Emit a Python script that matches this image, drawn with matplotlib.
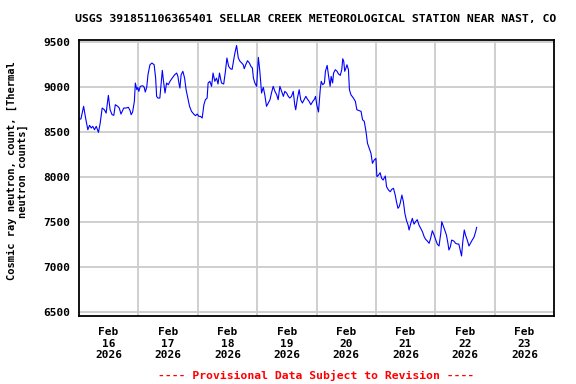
import numpy as np
import matplotlib
matplotlib.use('Agg')
import matplotlib.pyplot as plt

# hours since Feb 16 2026 00:00, neutron counts
hours = [0.0, 0.8, 1.9, 2.7, 3.6, 4.3, 5.0, 5.6, 6.3, 7.0, 7.9, 8.6, 9.4, 10.3, 11.0,
         11.9, 12.6, 13.4, 14.1, 14.7, 15.7, 16.3, 17.0, 18.1, 19.0, 20.0, 20.7, 21.1,
         21.7, 22.4, 22.8, 23.4, 23.8, 24.2, 24.8, 25.8, 26.4, 26.8, 27.4, 27.9, 28.7,
         29.5, 30.4, 31.0, 31.4, 31.9, 32.7, 33.7, 34.1, 34.8, 35.4, 36.1, 36.8, 37.7,
         38.7, 39.5, 40.0, 40.4, 40.8, 41.3, 42.0, 42.7, 43.3, 44.0, 44.7, 45.5, 46.4,
         47.1, 47.8, 48.4, 49.1, 49.8, 50.5, 51.1, 51.8, 52.2, 52.9, 53.6, 54.2, 54.9,
         55.6, 56.2, 56.8, 57.6, 58.5, 59.2, 59.8, 60.5, 61.2, 61.9, 62.5, 63.1, 63.7,
         64.4, 65.1, 65.8, 66.4, 66.8, 67.4, 68.1, 68.9, 69.5, 70.1, 70.5, 71.1, 71.8,
         72.5, 73.1, 73.8, 74.5, 75.1, 75.8, 76.5, 77.2, 77.8, 78.5, 79.2, 79.9, 80.5,
         81.2, 81.9, 82.6, 83.2, 83.9, 84.6, 85.2, 85.9, 86.6, 87.2, 87.6, 88.3, 89.0,
         89.6, 90.3, 91.0, 91.7, 92.3, 93.0, 93.7, 94.5, 95.2, 95.6, 96.1, 96.8, 97.5,
         97.9, 98.5, 99.2, 99.6, 100.3, 100.9, 101.5, 101.9, 102.5, 102.9, 103.6, 104.3,
         104.9, 105.6, 106.2, 106.6, 107.0, 107.4, 107.9, 108.3, 108.9, 109.3, 109.9,
         110.9, 111.7, 112.3, 113.3, 114.0, 114.6, 115.3, 116.0, 116.6, 117.3, 118.0,
         118.6, 119.3, 120.0, 120.4, 121.1, 121.7, 122.3, 122.9, 123.8, 124.3, 125.1,
         125.8, 126.4, 127.1, 127.8, 128.3, 128.9, 129.4, 129.8, 130.5, 131.1, 131.7,
         132.3, 133.0, 133.4, 134.1, 134.7, 135.4, 136.1, 136.7, 137.4, 138.1, 138.8,
         139.5, 140.1, 140.8, 141.5, 142.1, 142.8, 143.5, 144.2, 144.8, 145.5, 146.2,
         146.6, 147.1, 147.8, 148.5, 149.1, 149.5, 150.1, 150.6, 151.5, 152.2, 152.9,
         153.5, 154.2, 154.6, 155.1, 155.7, 156.2, 156.9, 157.6, 158.2, 158.9, 159.6,
         160.3, 160.7]
counts = [8648, 8648, 8789, 8659, 8529, 8578, 8548, 8567, 8529, 8567, 8500, 8603, 8770,
          8751, 8714, 8911, 8751, 8696, 8689, 8807, 8789, 8770, 8703, 8770, 8770, 8778,
          8740, 8696, 8726, 8844, 9048, 8974, 9000, 8955, 9011, 9018, 9000, 8948, 9000,
          9140, 9251, 9270, 9251, 9103, 8900, 8881, 8881, 9189, 9085, 8937, 9048, 9029,
          9067, 9103, 9140, 9159, 9122, 9048, 8992, 9140, 9178, 9103, 8974, 8881, 8789,
          8733, 8703, 8685, 8703, 8678, 8678, 8659, 8807, 8862, 8881, 9048, 9067, 9011,
          9159, 9067, 9103, 9037, 9159, 9048, 9037, 9178, 9326, 9233, 9207, 9200, 9300,
          9392, 9465, 9326, 9289, 9270, 9251, 9207, 9251, 9296, 9270, 9233, 9215, 9103,
          9048, 9011, 9333, 9178, 8937, 9000, 8918, 8789, 8826, 8862, 8937, 9011, 8955,
          8918, 8862, 9011, 8955, 8900, 8955, 8937, 8900, 8881, 8900, 8955, 8807, 8751,
          8881, 8974, 8862, 8826, 8862, 8900, 8870, 8844, 8807, 8844, 8870, 8900, 8807,
          8726, 8974, 9067, 9029, 9048, 9178, 9244, 9122, 9011, 9122, 9048, 9159, 9196,
          9178, 9148, 9133, 9196, 9318, 9289, 9178, 9215, 9251, 9196, 8974, 8918, 8881,
          8844, 8751, 8740, 8733, 8640, 8622, 8507, 8378, 8322, 8267, 8156, 8192, 8211,
          8007, 8026, 8052, 7989, 7970, 8015, 7896, 7859, 7840, 7867, 7878, 7803, 7729,
          7656, 7674, 7711, 7803, 7729, 7600, 7526, 7470, 7415, 7489, 7544, 7480, 7510,
          7530, 7470, 7433, 7396, 7340, 7311, 7292, 7267, 7322, 7407, 7359, 7303, 7259,
          7237, 7378, 7507, 7470, 7415, 7359, 7267, 7193, 7230, 7303, 7292, 7267, 7259,
          7259, 7174, 7126, 7285, 7415, 7359, 7303, 7237, 7267, 7303, 7333, 7396, 7444]

days = [16, 17, 18, 19, 20, 21, 22, 23]
yticks = [6500, 7000, 7500, 8000, 8500, 9000, 9500]

title = 'USGS 391851106365401 SELLAR CREEK METEOROLOGICAL STATION NEAR NAST, CO'
ylabel = 'Cosmic ray neutron, count, [Thermal\nneutron counts]'
footer = '---- Provisional Data Subject to Revision ----'

plt.rcParams['font.family'] = 'DejaVu Sans Mono'
plt.rcParams['font.weight'] = 'bold'

fig = plt.figure(figsize=(5.76, 3.84), dpi=100)
ax = fig.add_axes([0.137, 0.177, 0.825, 0.72])

ax.plot(hours, counts, color='#0000ff', lw=0.8)

ax.set_xlim(0, 24 * len(days))
ax.set_ylim(6459, 9531)

ax.set_yticks(yticks)
ax.set_yticklabels([str(v) for v in yticks], fontsize=8, fontweight='bold')
ax.set_xticks([24 * i + 12 for i in range(len(days))])
ax.set_xticklabels(['Feb\n%d\n2026' % d for d in days], fontsize=8,
                   fontweight='bold', linespacing=1.2)
ax.set_xticks([24 * i for i in range(1, len(days))], minor=True)
ax.tick_params(axis='y', which='both', length=0, pad=6)
ax.tick_params(axis='x', which='both', length=0, pad=8)

ax.grid(False)
ax.yaxis.grid(True, color='#cccccc', lw=1.3)
ax.xaxis.grid(True, which='minor', color='#cccccc', lw=1.3)
ax.set_axisbelow(True)
for s in ax.spines.values():
    s.set_linewidth(1.3)
    s.set_color('black')

ax.set_ylabel(ylabel, fontsize=7.5, fontweight='bold', linespacing=1.0)
ax.yaxis.set_label_coords(-0.108, 0.525)
fig.text(0.548, 0.95, title, ha='center', va='center', fontsize=8.25, fontweight='bold')
fig.text(0.548, 0.023, footer, ha='center', va='center', fontsize=8.2,
         fontweight='bold', color='red')

fig.savefig('out.png', dpi=100)
